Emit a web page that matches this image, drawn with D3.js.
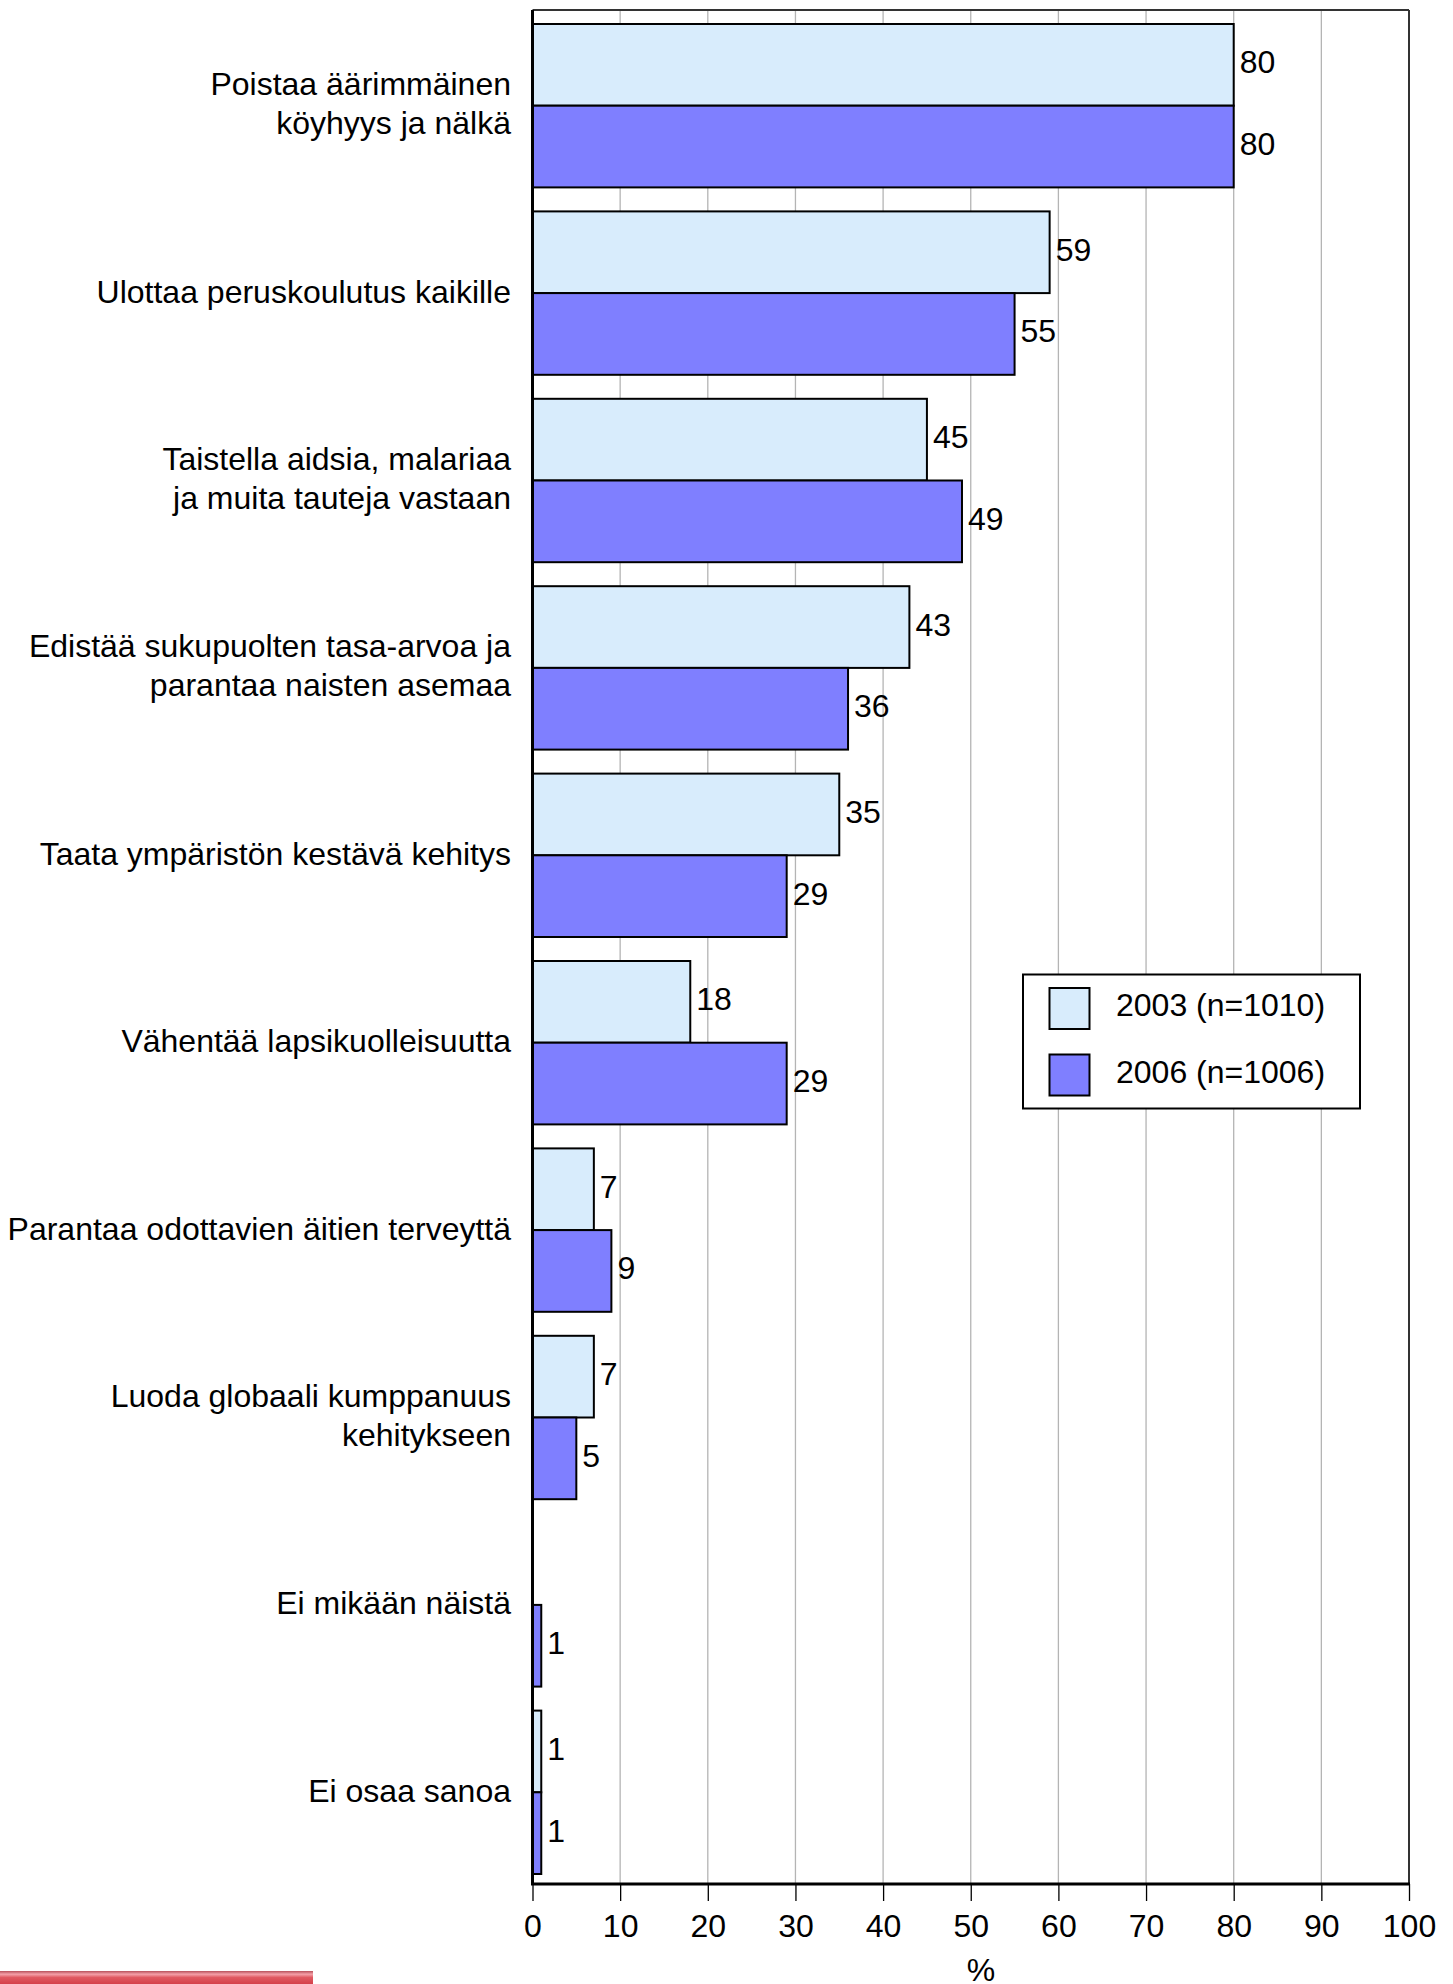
<!DOCTYPE html>
<html><head><meta charset="utf-8">
<script src="https://cdn.jsdelivr.net/npm/d3@7"></script>
<style>
html,body{margin:0;padding:0;background:#fff;}
svg{display:block;font-family:Arial,"Liberation Sans",sans-serif;}
</style></head>
<body>
<svg id="chart" width="1453" height="1984"></svg>
<script>
const categories = [
  ["Poistaa äärimmäinen","köyhyys ja nälkä"],
  ["Ulottaa peruskoulutus kaikille"],
  ["Taistella aidsia, malariaa","ja muita tauteja vastaan"],
  ["Edistää sukupuolten tasa-arvoa ja","parantaa naisten asemaa"],
  ["Taata ympäristön kestävä kehitys"],
  ["Vähentää lapsikuolleisuutta"],
  ["Parantaa odottavien äitien terveyttä"],
  ["Luoda globaali kumppanuus","kehitykseen"],
  ["Ei mikään näistä"],
  ["Ei osaa sanoa"]
];
const seriesNames = ["2003 (n=1010)", "2006 (n=1006)"];
const values2003 = [80, 59, 45, 43, 35, 18, 7, 7, null, 1];
const values2006 = [80, 55, 49, 36, 29, 29, 9, 5, 1, 1];
const xTicks = [0,10,20,30,40,50,60,70,80,90,100];
const axisTitle = "%";
const colors = ["#d8ecfc", "#7f7fff"];

(function(){
const svg = d3.select("#chart");
const pL = 532.5, pR = 1409, pT = 10, pB = 1884;
const FS = 32;
const FF = 'Arial,"Liberation Sans",sans-serif';

const x = d3.scaleLinear().domain([0,100]).range([pL, pR]);
const y = d3.scaleBand().domain(d3.range(categories.length)).range([pT, pB]);
const step = y.step();
const y1 = d3.scaleBand().domain([0,1]).range([14, step - 10]);

// grid
svg.append("g").selectAll("line").data(xTicks.filter(t => t>0 && t<100)).join("line")
  .attr("x1", d=>x(d)).attr("x2", d=>x(d)).attr("y1", pT).attr("y2", pB)
  .attr("stroke", "#b4b4b4").attr("stroke-width", 1.3);

// plot border (top/right)
svg.append("line").attr("x1", pL).attr("x2", pR).attr("y1", pT).attr("y2", pT)
  .attr("stroke", "#333").attr("stroke-width", 2);
svg.append("line").attr("x1", pR).attr("x2", pR).attr("y1", pT).attr("y2", pB)
  .attr("stroke", "#333").attr("stroke-width", 2);

// bars
const data = [];
categories.forEach((c,i) => {
  [values2003[i], values2006[i]].forEach((v,s) => {
    if (v !== null) data.push({i, s, v});
  });
});
const bars = svg.append("g");
bars.selectAll("rect").data(data).join("rect")
  .attr("x", x(0))
  .attr("y", d => y(d.i) + y1(d.s))
  .attr("width", d => x(d.v) - x(0))
  .attr("height", y1.bandwidth())
  .attr("fill", d => colors[d.s])
  .attr("stroke", "#000").attr("stroke-width", 2);

bars.selectAll("text").data(data).join("text")
  .attr("x", d => x(d.v) + 6)
  .attr("y", d => y(d.i) + y1(d.s) + y1.bandwidth()/2 + 8.5)
  .attr("font-size", FS).attr("fill", "#000")
  .text(d => d.v);

// category labels
const lab = svg.append("g");
categories.forEach((lines,i) => {
  const cy = y(i) + step/2;
  const lh = 39;
  const off = lines.length > 1 ? 10.5 : 11.5;
  const t = lab.append("text").attr("text-anchor","end").attr("font-size", FS).attr("fill","#000");
  lines.forEach((ln,k) => {
    t.append("tspan").attr("x", 511)
      .attr("y", cy + (k - (lines.length-1)/2) * lh + off)
      .text(ln);
  });
});

// axes lines
svg.append("line").attr("x1", pL).attr("x2", pL).attr("y1", pT).attr("y2", pB)
  .attr("stroke", "#000").attr("stroke-width", 3);
svg.append("line").attr("x1", pL-1.5).attr("x2", pR+1).attr("y1", pB).attr("y2", pB)
  .attr("stroke", "#000").attr("stroke-width", 3);

// x axis ticks & labels
const xa = svg.append("g").attr("transform", `translate(0,${pB})`)
  .call(d3.axisBottom(x).tickValues(xTicks).tickSize(17).tickPadding(7).tickFormat(d3.format("d")));
xa.select(".domain").remove();
xa.selectAll(".tick line").attr("stroke", "#000").attr("stroke-width", 1.3);
xa.selectAll(".tick text").attr("font-size", FS).attr("fill","#000")
  .attr("font-family", FF).attr("dy", null).attr("y", 52.5);

svg.append("text").attr("x", 981).attr("y", 1981).attr("text-anchor","middle")
  .attr("font-size", FS).attr("fill","#000").text(axisTitle);

// legend
const lg = svg.append("g");
lg.append("rect").attr("x", 1023).attr("y", 974.5).attr("width", 337).attr("height", 134)
  .attr("fill", "#fff").attr("stroke", "#000").attr("stroke-width", 2);
seriesNames.forEach((n,s) => {
  const yy = 988 + s*66.5;
  lg.append("rect").attr("x", 1049.5).attr("y", yy).attr("width", 40).attr("height", 41)
    .attr("fill", colors[s]).attr("stroke", "#000").attr("stroke-width", 2);
  lg.append("text").attr("x", 1116).attr("y", yy + 28).attr("font-size", FS).attr("fill","#000").text(n);
});

// cut-off banner at bottom-left
const defs = svg.append("defs");
const grad = defs.append("linearGradient").attr("id","bn").attr("x1",0).attr("x2",0).attr("y1",0).attr("y2",1);
grad.append("stop").attr("offset","0%").attr("stop-color","#b8505a");
grad.append("stop").attr("offset","25%").attr("stop-color","#f4a0a8");
grad.append("stop").attr("offset","50%").attr("stop-color","#e05a62");
grad.append("stop").attr("offset","100%").attr("stop-color","#d4404a");
svg.append("rect").attr("x", 0).attr("y", 1971).attr("width", 313).attr("height", 13).attr("fill","url(#bn)");
})();
</script>
</body></html>
